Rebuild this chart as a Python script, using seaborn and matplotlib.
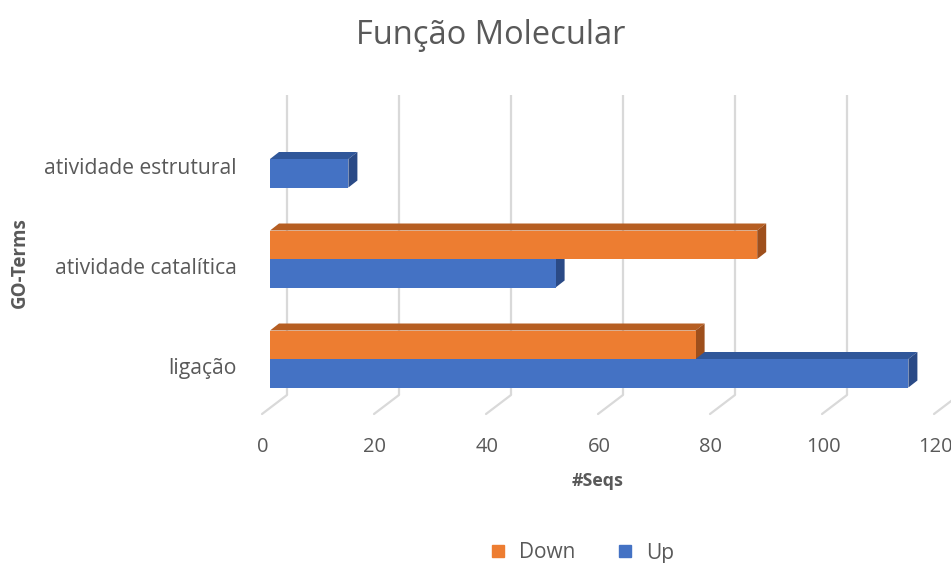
import matplotlib
matplotlib.use("Agg")
import matplotlib.pyplot as plt
import numpy as np
import pandas as pd
import seaborn as sns
from matplotlib.lines import Line2D
from matplotlib.patches import Polygon
from matplotlib.transforms import IdentityTransform, ScaledTranslation

# Data
terms = ["atividade estrutural", "atividade catalítica", "ligação"]
down_counts = [None, 87, 76]
up_counts = [14, 51, 114]
series = ["Down", "Up"]
x_ticks = [0, 20, 40, 60, 80, 100, 120]

ORANGE = "#ED7D31"
BLUE = "#4472C4"
FACE_TOP = {ORANGE: "#B65E22", BLUE: "#30579A"}
FACE_SIDE = {ORANGE: "#9E4F1C", BLUE: "#2A4A86"}
GRID = "#D9D9D9"
TEXT = "#595959"

rows = []
for term, d, u in zip(terms, down_counts, up_counts):
    if d is not None:
        rows.append((term, "Down", d))
    rows.append((term, "Up", u))
df = pd.DataFrame(rows, columns=["term", "direction", "seqs"])

sns.set_theme(style="white")
plt.rcParams["font.family"] = ["Open Sans", "DejaVu Sans"]

W, H, DPI = 951, 563, 100
fig = plt.figure(figsize=(W / DPI, H / DPI), dpi=DPI)

# Plot box: front plane of the bars (pixel geometry of the layout)
left_px, right_px, top_px, bot_px = 270, 942, 95, 395
ax = fig.add_axes([left_px / W, 1 - bot_px / H,
                   (right_px - left_px) / W, (bot_px - top_px) / H])

sns.barplot(data=df, y="term", x="seqs", hue="direction",
            order=terms, hue_order=series,
            palette={"Down": ORANGE, "Up": BLUE},
            orient="h", width=0.57, saturation=1, linewidth=0,
            legend=False, ax=ax)

ax.set_xlim(0, 120)
ax.set_ylim(2.36, -0.64)
for s in ax.spines.values():
    s.set_visible(False)

# 3D look: depth offset in pixels
DEPTH_DX, DEPTH_DY = 9, 7          # bar thickness
WALL_DX = 17                       # back wall behind bar fronts
FLOOR_DX, FLOOR_DY = -25, -19      # floor edge toward viewer


def px(dx, dy):
    return ScaledTranslation(dx / DPI, dy / DPI, fig.dpi_scale_trans)


# back-wall gridlines
ax.set_xticks(x_ticks)
ax.set_axisbelow(True)
ax.grid(axis="x", color=GRID, linewidth=1.6)
ax.grid(axis="y", visible=False)
for gl in ax.get_xgridlines():
    gl.set_transform(gl.get_transform() + px(WALL_DX, 0))

# floor edges
fig.canvas.draw()
y_floor = ax.get_ylim()[0]
for v in x_ticks:
    bx, by = ax.transData.transform((v, y_floor))
    bx += WALL_DX
    ln = Line2D([bx, bx + FLOOR_DX], [by, by + FLOOR_DY], color=GRID,
                linewidth=1.6, transform=IdentityTransform(), zorder=1)
    fig.add_artist(ln)

# x tick labels sit at the front edge of the floor
ax.tick_params(axis="x", length=0, pad=30, labelsize=14.5, labelcolor=TEXT)
for lbl in ax.get_xticklabels():
    lbl.set_transform(lbl.get_transform() + px(-7, 0))

ax.tick_params(axis="y", length=0, pad=24, labelsize=15.2, labelcolor=TEXT)
for lbl in ax.get_yticklabels():
    lbl.set_transform(lbl.get_transform() + px(0, -7))

# top and side faces of each bar
bars = [p for p in ax.patches if np.isfinite(p.get_width()) and p.get_width() > 0]
geo = []
for p in bars:
    (x0, y0) = ax.transData.transform((p.get_x(), p.get_y()))
    (x1, y1) = ax.transData.transform((p.get_x() + p.get_width(),
                                       p.get_y() + p.get_height()))
    geo.append((min(y0, y1), p, min(x0, x1), max(x0, x1), min(y0, y1), max(y0, y1)))
geo.sort(key=lambda g: g[0])
for rank, (_, p, xl, xr, yb, yt) in enumerate(geo):
    col = matplotlib.colors.to_hex(p.get_facecolor())
    col = ORANGE if col.lower() == ORANGE.lower() else BLUE
    z = 2 + rank * 0.1
    top = Polygon([(xl, yt), (xr, yt), (xr + DEPTH_DX, yt + DEPTH_DY),
                   (xl + DEPTH_DX, yt + DEPTH_DY)], closed=True,
                  facecolor=FACE_TOP[col], edgecolor="none",
                  transform=IdentityTransform(), zorder=z, clip_on=False)
    side = Polygon([(xr, yt), (xr + DEPTH_DX, yt + DEPTH_DY),
                    (xr + DEPTH_DX, yb + DEPTH_DY), (xr, yb)], closed=True,
                   facecolor=FACE_SIDE[col], edgecolor="none",
                   transform=IdentityTransform(), zorder=z, clip_on=False)
    ax.add_artist(top)
    ax.add_artist(side)
    p.set_zorder(z + 0.05)

# axis titles
ax.set_xlabel("#Seqs", fontsize=12.8, fontweight="bold", color=TEXT)
ax.xaxis.set_label_coords((598 - left_px) / (right_px - left_px),
                          (bot_px - 472) / (bot_px - top_px))
ax.set_ylabel("GO-Terms", fontsize=13.5, fontweight="bold", color=TEXT)
ax.yaxis.set_label_coords((30 - left_px) / (right_px - left_px),
                          (bot_px - 263) / (bot_px - top_px))

fig.text(491 / W, 1 - 35 / H, "Função Molecular", ha="center", va="center",
         fontsize=23.5, color=TEXT)

handles = [Line2D([], [], marker="s", linestyle="", markersize=8.8,
                  color=c) for c in (ORANGE, BLUE)]
fig.legend(handles, series, loc="center", bbox_to_anchor=(582 / W, 1 - 553 / H),
           ncol=2, frameon=False, fontsize=15, labelcolor=TEXT,
           handlelength=0.8, handletextpad=0.6, columnspacing=2.0)

fig.savefig("out.png", dpi=DPI, facecolor="white")
